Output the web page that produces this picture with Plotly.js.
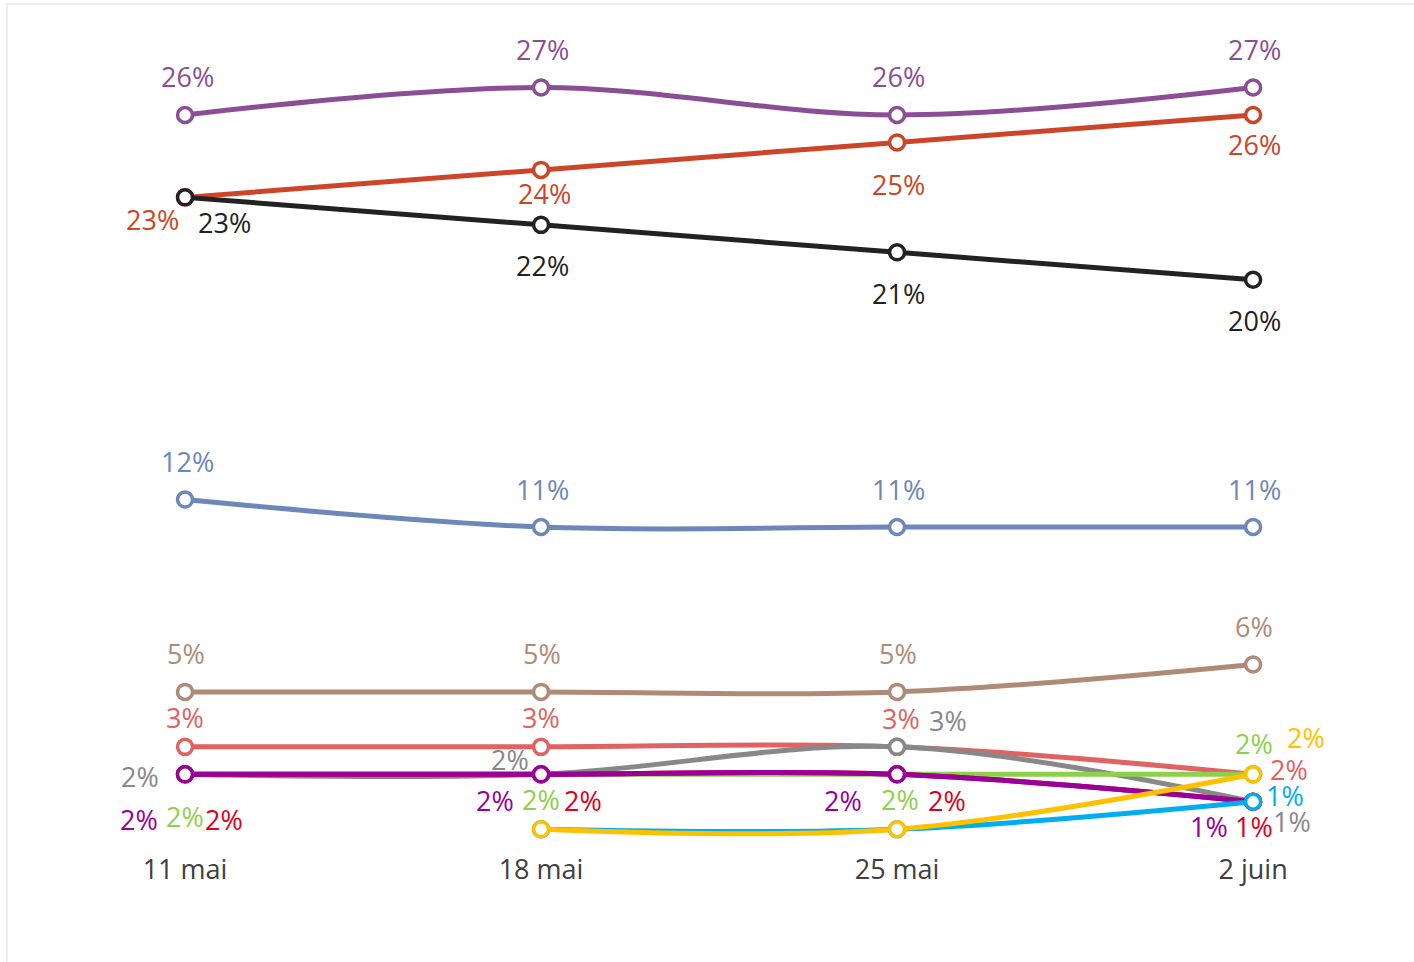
<!DOCTYPE html>
<html>
<head>
<meta charset="utf-8">
<script src="https://cdn.plot.ly/plotly-3.0.1.min.js"></script>
<style>
  html, body { margin: 0; padding: 0; background: #fff; }
  #wrap { position: relative; width: 1414px; height: 962px; }
  #chart { position: absolute; left: 0; top: 0; width: 1414px; height: 962px; }
  #frame { position: absolute; left: 6px; top: 3px; width: 1408px; height: 959px;
           border-left: 2px solid #eeeeee; border-top: 2px solid #eeeeee; pointer-events: none; }
</style>
</head>
<body>
<div id="wrap"><div id="chart"></div><div id="frame"></div></div>
<script>
// ---- data ----
const dates = ["11 mai", "18 mai", "25 mai", "2 juin"];

const seriesPurple  = [26, 27, 26, 27];
const seriesOrange  = [23, 24, 25, 26];
const seriesBlack   = [23, 22, 21, 20];
const seriesSlate   = [12, 11, 11, 11];
const seriesTan     = [5, 5, 5, 6];
const seriesSalmon  = [3, 3, 3, 2];
const seriesGray    = [2, 2, 3, 1];
const seriesGreen   = [2, 2, 2, 2];
const seriesRed     = [2, 2, 2, 1];
const seriesMagenta = [2, 2, 2, 1];
const seriesCyan    = [null, 0, 0, 1];
const seriesYellow  = [null, 0, 0, 2];

// ---- styling / label placement (pixels) ----
const series = [
  {y: seriesPurple,  color: "#8B4E96", dx: [2, 1, 1, 1],       dy: [38, 38, 38, 38]},
  {y: seriesOrange,  color: "#CD4529", dx: [-33, 3, 1, 1],     dy: [-22, -24, -42, -30]},
  {y: seriesBlack,   color: "#222222", dx: [39, 1, 1, 1],      dy: [-25, -41, -41, -41]},
  {y: seriesSlate,   color: "#6D87B9", dx: [2, 1, 1, 1],       dy: [38, 38, 38, 38]},
  {y: seriesTan,     color: "#AF8B77", dx: [1, 1, 1, 1],       dy: [38, 38, 38, 38]},
  {y: seriesSalmon,  color: "#E06262", dx: [0, 0, 4, 36],      dy: [29, 29, 28, 5]},
  {y: seriesGray,    color: "#888888", dx: [-45, -31, 51, 39], dy: [-2, 15, 26, -20]},
  {y: seriesGreen,   color: "#8DD04C", dx: [0, 0, 3, 1],       dy: [-42, -25, -25, 31]},
  {y: seriesRed,     color: "#E0001B", dx: [39, 42, 50, 1],    dy: [-45, -26, -26, -25]},
  {y: seriesMagenta, color: "#990099", dx: [-46, -46, -54, -44], dy: [-45, -26, -26, -25]},
  {y: seriesCyan,    color: "#00AEEF", dx: [0, null, null, 32], dy: [0, null, null, 6]},
  {y: seriesYellow,  color: "#FFC000", dx: [0, null, null, 53], dy: [0, null, null, 37]}
];

const FONT = "'Open Sans', 'Noto Sans', sans-serif";

const traces = series.map(s => ({
  type: "scatter",
  mode: "lines+markers",
  x: dates,
  y: s.y,
  connectgaps: false,
  line: {color: s.color, width: 5, shape: "spline", smoothing: 1},
  marker: {symbol: "circle", size: 15, color: "#ffffff", line: {color: s.color, width: 3.5}},
  hoverinfo: "skip",
  showlegend: false
}));

const annotations = [];
series.forEach(s => {
  s.y.forEach((v, i) => {
    if (v === null || s.dx[i] === null) return;
    annotations.push({
      x: dates[i], y: v, xref: "x", yref: "y",
      text: v + "%", showarrow: false,
      xshift: s.dx[i], yshift: s.dy[i],
      font: {family: FONT, size: 27, color: s.color}
    });
  });
});

const layout = {
  width: 1414, height: 962,
  margin: {l: 0, r: 0, t: 60, b: 119},
  paper_bgcolor: "#ffffff", plot_bgcolor: "#ffffff",
  xaxis: {
    type: "category", range: [-0.5197, 3.452],
    showgrid: false, zeroline: false, showline: false, ticks: "",
    ticklabelstandoff: 8,
    tickfont: {family: FONT, size: 27, color: "#404040"}
  },
  yaxis: {
    range: [-0.5, 28],
    visible: false, showgrid: false, zeroline: false, fixedrange: true
  },
  annotations: annotations
};

Plotly.newPlot("chart", traces, layout, {displayModeBar: false, staticPlot: true});
</script>
</body>
</html>
